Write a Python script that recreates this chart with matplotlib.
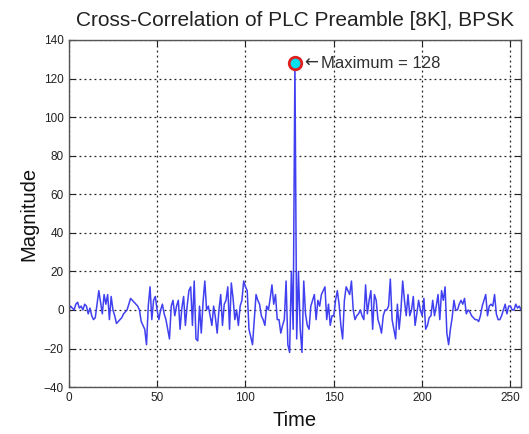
"""Cross-correlation of a PLC preamble, MATLAB-style figure."""

import numpy as np
import matplotlib
matplotlib.use("Agg")
import matplotlib.pyplot as plt

plt.rcParams["font.family"] = ["Liberation Sans", "DejaVu Sans"]

# Values, one per time sample (0..256)
magnitude = [
    0, 2, 1, 0, 3, 4, 1, 2, 0, 3,
    2, -2, 1, -3, -5, -4, 3, 10, 4, -2,
    8, 3, 8, -5, 7, 0, -3, -7, -6, -5,
    -4, -2, -1, 0, 3, 6, 5, 4, 3, 2,
    0, -6, -8, -10, -18, 2, 12, -5, 5, 7,
    0, -5, 0, 3, -2, -5, -10, -15, 2, 5,
    -3, 2, 5, -10, 1, 7, -8, 2, 10, 12,
    -8, 15, -15, -16, 2, -12, 4, 15, 0, 2,
    -3, -8, 2, -4, -12, 0, 8, -8, 3, 5,
    12, -10, 14, 6, -5, 0, -8, 2, 5, 15,
    12, 10, -10, -14, -18, -5, 8, 5, 3, -3,
    -5, -8, 2, 0, 6, 13, 3, 8, -5, -5,
    -12, -8, -5, 15, -18, -22, 20, -10, 128, -15,
    20, -10, -22, 15, -2, -8, -10, 2, 5, 8,
    -5, 5, 2, 8, 10, 12, -5, 3, -8, -3,
    -3, 5, 10, 3, -8, -15, 5, 12, 10, 8,
    15, 0, -5, -3, -2, 0, -3, -5, 13, -2,
    5, 10, -10, 8, 5, -5, -8, -12, -3, 0,
    0, 2, 16, -5, -10, -15, 3, -10, 0, 15,
    5, -3, 8, -3, 0, 7, -8, -2, 5, 0,
    -3, 6, -10, -8, -4, -3, 5, -3, 2, 8,
    -5, 10, 5, 12, -12, -18, -10, -4, 5, 0,
    0, 3, 5, 3, 6, -2, 0, -1, -3, -4,
    -5, -5, -6, -3, 2, 5, 8, -3, 2, 3,
    2, 8, -2, -5, -5, -3, 0, 3, -2, 2,
    2, 0, 0, 3, 1, 2, 0,
]
time = np.arange(len(magnitude))

x_ticks = [0, 50, 100, 150, 200, 250]
y_ticks = [-40, -20, 0, 20, 40, 60, 80, 100, 120, 140]

fig = plt.figure(figsize=(5.29, 4.34), dpi=100)
ax = fig.add_axes([0.130, 0.108, 0.855, 0.800])

ax.plot(time, magnitude, color="#4040f0", linewidth=1.1)

# Mark the maximum
peak_idx = int(np.argmax(magnitude))
peak_val = magnitude[peak_idx]
ax.plot(time[peak_idx], peak_val, "o", markersize=9, markerfacecolor="#00e0f0",
        markeredgecolor="#e02020", markeredgewidth=2)
ax.text(time[peak_idx] + 5, peak_val, "\u2190", fontsize=12, color="#303030",
        va="center", ha="left", family="DejaVu Sans")
ax.text(time[peak_idx] + 15, peak_val, "Maximum = %d" % peak_val,
        fontsize=12, color="#303030", va="center", ha="left")

ax.set_xlim(0, 256)
ax.set_ylim(-40, 140)
ax.set_xticks(x_ticks)
ax.set_yticks(y_ticks)
ax.tick_params(direction="in", labelsize=8.5, length=4, colors="#222222",
               top=True, right=True)
ax.grid(True, color="#222222", linestyle=(0, (1.5, 2.5)), linewidth=0.9)

for spine in ax.spines.values():
    spine.set_color("#555555")
    spine.set_linewidth(1.0)

ax.set_title("Cross-Correlation of PLC Preamble [8K], BPSK", fontsize=15,
             color="#222222", pad=10)
ax.set_xlabel("Time", fontsize=14.5, color="#111111", labelpad=5)
ax.set_ylabel("Magnitude", fontsize=14.5, color="#111111", labelpad=4)

fig.savefig("out.png", dpi=100)
